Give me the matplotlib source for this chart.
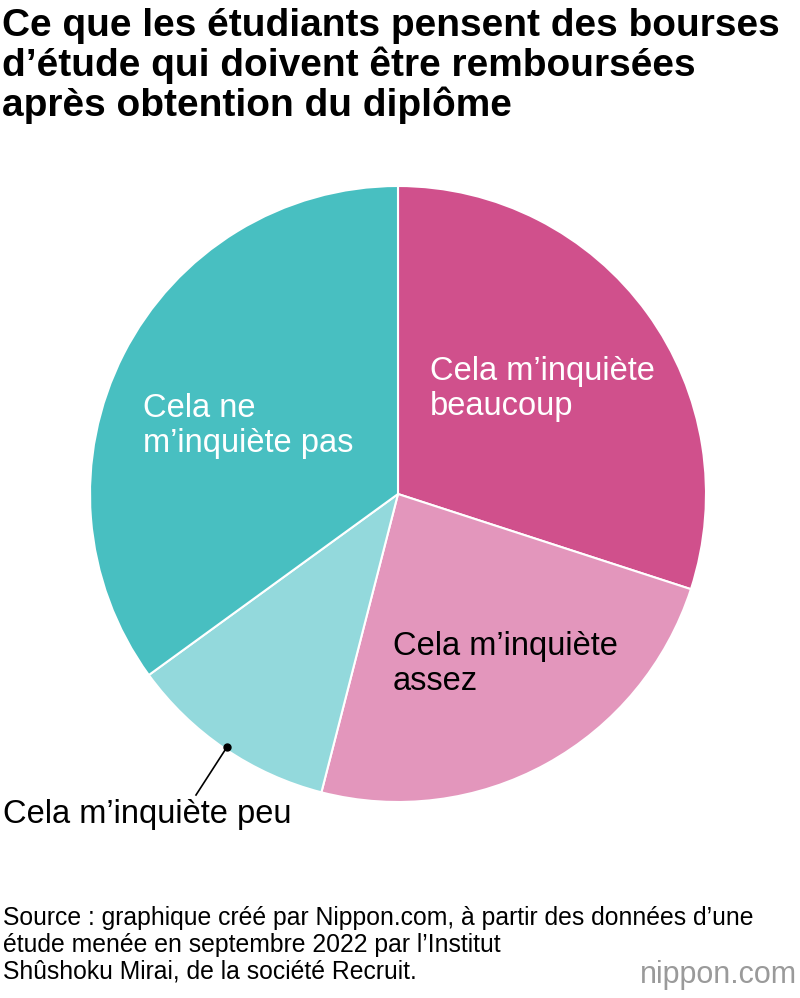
import matplotlib.pyplot as plt

plt.rcParams['font.family'] = ['Liberation Sans', 'DejaVu Sans']

labels = ["Cela m’inquiète\nbeaucoup", "Cela m’inquiète\nassez", "Cela m’inquiète peu", "Cela ne\nm’inquiète pas"]
values = [30, 24, 11, 35]
colors = ["#d0508c", "#e396bc", "#93d9dc", "#48bfc1"]
source_lines = ["Source : graphique créé par Nippon.com, à partir des données d’une",
                "étude menée en septembre 2022 par l’Institut",
                "Shûshoku Mirai, de la société Recruit."]

W, H = 800, 998
fig = plt.figure(figsize=(W / 100, H / 100), dpi=100)

def fx(px):
    return px / W

def fy(py):
    return 1 - py / H

cx, cy, r = 398, 494, 308
ax = fig.add_axes([fx(cx - r), fy(cy + r), 2 * r / W, 2 * r / H])
ax.pie(values, colors=colors, startangle=90, counterclock=False,
       wedgeprops=dict(edgecolor="white", linewidth=1.5))
ax.set_xlim(-1, 1)
ax.set_ylim(-1, 1)
ax.set_aspect("auto")
ax.axis("off")

fig.text(fx(2), fy(8), "Ce que les étudiants pensent des bourses\nd’étude qui doivent être remboursées\naprès obtention du diplôme",
         fontsize=28, fontweight="bold", va="top", ha="left", linespacing=1.08)

fs = 23.5
fig.text(fx(430), fy(389), labels[0], fontsize=fs, color="white", va="center", ha="left", linespacing=1.15)
fig.text(fx(393), fy(664), labels[1], fontsize=fs, color="black", va="center", ha="left", linespacing=1.15)
fig.text(fx(143), fy(426), labels[3], fontsize=fs, color="white", va="center", ha="left", linespacing=1.15)
fig.text(fx(3), fy(815), labels[2], fontsize=fs, color="black", va="center", ha="left")

fig.add_artist(plt.Line2D([fx(227), fx(196)], [fy(747), fy(795)], color="black", lw=1.2))
fig.add_artist(plt.Line2D([fx(227)], [fy(747)], marker="o", markersize=5, color="black"))

for i, line in enumerate(source_lines):
    fig.text(fx(3), fy(918 + 27 * i), line, fontsize=17.8, va="center", ha="left")
fig.text(fx(797), fy(975), "nippon.com", fontsize=22, color="#9a9a9a", va="center", ha="right")

fig.savefig("out.png", dpi=100, facecolor="white")
